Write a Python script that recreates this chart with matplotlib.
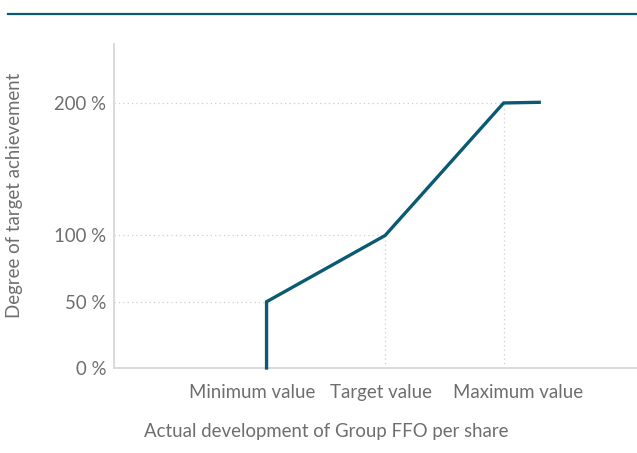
import matplotlib
matplotlib.use("Agg")
import matplotlib.pyplot as plt
from matplotlib.lines import Line2D

# ---- data ----
x_points = [80, 80, 100, 120, 126]          # FFO per share, % of target (conceptual)
y_points = [0, 50, 100, 200, 200.5]         # degree of target achievement, %
ref_x = [80, 100, 120]                      # minimum, target, maximum
ref_y = [50, 100, 200]
y_ticks = [0, 50, 100, 200]
y_tick_labels = ["0 %", "50 %", "100 %", "200 %"]
x_tick_pos = [77.5, 99.3, 122.5]
x_tick_labels = ["Minimum value", "Target value", "Maximum value"]

W, H = 637, 453
plt.rcParams['font.family'] = ['Lato', 'DejaVu Sans']
FS = 13.4
WT = 'normal'
fig = plt.figure(figsize=(W / 100, H / 100), dpi=100)

teal = "#0b5a74"
txt = "#6e6e6e"
grid = "#cfcfcf"
spine = "#d9d9d9"

# top rule
fig.add_artist(Line2D([8 / W, 1.0], [1 - 14.3 / H, 1 - 14.3 / H], color=teal, lw=1.6,
                      transform=fig.transFigure))

l, r, t, b = 114, 637, 44, 368
ax = fig.add_axes([l / W, 1 - b / H, (r - l) / W, (b - t) / H])
ax.set_xlim(54.26, 142.5)
ax.set_ylim(0, 244.5)

for s in ["top", "right"]:
    ax.spines[s].set_visible(False)
for s in ["left", "bottom"]:
    ax.spines[s].set_color(spine)
    ax.spines[s].set_linewidth(1.4)

xmin = ax.get_xlim()[0]
for xv, yv in zip(ref_x, ref_y):
    ax.hlines(yv, xmin, xv, colors=grid, linestyles=(0, (1, 2.5)), lw=0.9)
for xv, yv in zip(ref_x[1:], ref_y[1:]):
    ax.vlines(xv, 0, yv, colors=grid, linestyles=(0, (1, 2.5)), lw=0.9)

ax.plot(x_points, y_points, color=teal, lw=2.4, solid_joinstyle='miter', clip_on=False, zorder=3)

ax.set_yticks(y_ticks)
ax.set_yticklabels(y_tick_labels, color=txt, fontsize=FS, fontweight=WT)
ax.set_xticks(x_tick_pos)
ax.set_xticklabels(x_tick_labels, color=txt, fontsize=FS, fontweight=WT)
ax.tick_params(axis='both', length=0)
ax.tick_params(axis='y', pad=5.5)
ax.tick_params(axis='x', pad=11.5)

fig.text(15 / W, 1 - 195 / H, "Degree of target achievement", rotation=90,
         ha='center', va='center', color=txt, fontsize=FS, fontweight=WT)
fig.text(326 / W, 1 - 431.5 / H, "Actual development of Group FFO per share",
         ha='center', va='center', color=txt, fontsize=FS, fontweight=WT)

fig.savefig("out.png", dpi=100)
